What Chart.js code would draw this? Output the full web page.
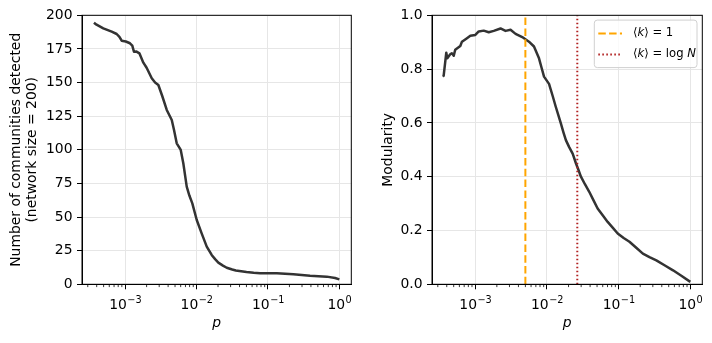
<!DOCTYPE html>
<html>
<head>
<meta charset="utf-8">
<script src="https://cdn.jsdelivr.net/npm/chart.js@4.4.1/dist/chart.umd.min.js"></script>
<style>
  html, body { margin: 0; padding: 0; background: #fff; }
  #wrap { position: relative; width: 712px; height: 343px; }
  canvas { position: absolute; top: 0; }
</style>
</head>
<body>
<div id="wrap">
  <canvas id="left" width="360" height="343" style="left:0"></canvas>
  <canvas id="right" width="352" height="343" style="left:360px"></canvas>
</div>
<script>
// data
const pCommunities = [3.66e-4, 3.98e-4, 4.95e-4, 6.49e-4, 7.62e-4, 8.32e-4, 8.95e-4, 1.023e-3, 1.17e-3, 1.26e-3,
  1.33e-3, 1.445e-3, 1.585e-3, 1.80e-3, 2.0e-3, 2.36e-3, 2.63e-3, 2.92e-3, 3.31e-3, 3.83e-3,
  4.50e-3, 4.84e-3, 5.28e-3, 6.01e-3, 6.53e-3, 7.29e-3, 7.94e-3, 8.73e-3, 1.007e-2, 1.18e-2,
  1.39e-2, 1.63e-2, 1.82e-2, 2.02e-2, 2.344e-2, 2.65e-2, 3.162e-2, 3.55e-2, 5.01e-2, 6.31e-2,
  7.76e-2, 0.133, 0.227, 0.389, 0.667, 0.871, 1.0];
const communities = [194.5, 193, 190.3, 187.8, 186.1, 184, 181.1, 180.5, 179.2, 177.5,
  172.9, 173, 171.7, 164.8, 161, 153.2, 150, 148.2, 140, 129.6,
  122.2, 114.7, 104.8, 99.9, 90, 72.6, 66, 60.2, 47.8, 37.9,
  28, 21.8, 18.7, 16.1, 13.9, 12.3, 11.0, 10.3, 9.2, 8.6,
  8.2, 8.2, 7.4, 6.4, 5.7, 4.7, 3.7];

const pModularity = [3.57e-4, 3.62e-4, 3.94e-4, 4.07e-4, 4.24e-4, 4.47e-4, 4.71e-4, 5.01e-4, 5.25e-4, 6.18e-4,
  6.52e-4, 7.66e-4, 8.53e-4, 1.002e-3, 1.117e-3, 1.312e-3, 1.542e-3, 1.811e-3, 2.249e-3, 2.642e-3,
  3.105e-3, 3.648e-3, 4.519e-3, 5.61e-3, 6.592e-3, 7.745e-3, 8.41e-3, 9.10e-3, 1.069e-2, 1.202e-2,
  1.327e-2, 1.445e-2, 1.563e-2, 1.698e-2, 1.837e-2, 2.042e-2, 2.291e-2, 2.535e-2, 2.754e-2, 2.979e-2,
  3.388e-2, 3.89e-2, 4.467e-2, 5.093e-2, 6.026e-2, 7.031e-2, 8.318e-2, 9.705e-2, 0.1175, 0.1416,
  0.1778, 0.2178, 0.2692, 0.3357, 0.4365, 0.5741, 0.7586, 1.0];
const modularity = [0.778, 0.775, 0.861, 0.840, 0.847, 0.855, 0.859, 0.850, 0.872, 0.886,
  0.902, 0.915, 0.924, 0.927, 0.940, 0.943, 0.937, 0.942, 0.951, 0.942,
  0.946, 0.931, 0.919, 0.902, 0.884, 0.840, 0.805, 0.772, 0.745, 0.700,
  0.660, 0.628, 0.598, 0.565, 0.536, 0.510, 0.485, 0.450, 0.425, 0.400,
  0.372, 0.344, 0.312, 0.282, 0.256, 0.232, 0.210, 0.189, 0.172, 0.158,
  0.135, 0.114, 0.101, 0.089, 0.071, 0.052, 0.031, 0.009];

const pMeanDegreeOne = 0.005;    // <k> = 1
const pMeanDegreeLogN = 0.0265;  // <k> = log N

const xRange = [2.49e-4, 1.47];
const xMajorTicks = [1e-3, 1e-2, 1e-1, 1];
const xTickLabels = [['10', '\u22123'], ['10', '\u22122'], ['10', '\u22121'], ['10', '0']];

const FONT = 'DejaVu Sans';
const GRID = '#e6e6e6';
const LINE = '#333333';

Chart.defaults.font.family = FONT;
Chart.defaults.font.size = 13.9;
Chart.defaults.color = '#000';

function majorIndex(v) {
  return xMajorTicks.findIndex(m => Math.abs(v / m - 1) < 1e-6);
}

function xScale() {
  return {
    type: 'logarithmic',
    min: xRange[0],
    max: xRange[1],
    bounds: 'data',
    afterBuildTicks: sc => {
      const t = [];
      for (let e = -4; e <= 0; e++) {
        for (let m = 1; m <= 9; m++) {
          const v = m * Math.pow(10, e);
          if (v >= xRange[0] && v <= xRange[1]) t.push({ value: v });
        }
      }
      sc.ticks = t;
    },
    afterFit: sc => { sc.height = 58.7; },
    ticks: { autoSkip: false, maxRotation: 0, minRotation: 0, padding: 6, callback: () => '' },
    grid: {
      color: c => (c.tick && majorIndex(c.tick.value) >= 0) ? GRID : 'rgba(0,0,0,0)',
      tickColor: c => (c.tick && majorIndex(c.tick.value) >= 0) ? '#000' : 'rgba(0,0,0,0)',
      tickLength: 5, lineWidth: 1
    },
    border: { color: '#000', width: 1 },
    title: { display: true, text: 'p', font: { style: 'italic' }, padding: { top: 0, bottom: 11 } }
  };
}

// minor ticks, 10^n labels with raised exponent, top/right spines
const axesFrame = {
  id: 'axesFrame',
  afterDraw(chart) {
    const { ctx, chartArea: a } = chart;
    const sc = chart.scales.x;
    ctx.save();
    ctx.strokeStyle = '#000';
    ctx.fillStyle = '#000';
    ctx.lineWidth = 0.8;
    ctx.textBaseline = 'alphabetic';
    sc.ticks.forEach(t => {
      const px = sc.getPixelForValue(t.value);
      const mi = majorIndex(t.value);
      if (mi < 0) {
        ctx.beginPath();
        ctx.moveTo(px, a.bottom);
        ctx.lineTo(px, a.bottom + 2.8);
        ctx.stroke();
        return;
      }
      const [base, exp] = xTickLabels[mi];
      ctx.font = '13.9px "' + FONT + '"';
      const wb = ctx.measureText(base).width;
      ctx.font = '9.7px "' + FONT + '"';
      const we = ctx.measureText(exp).width;
      const x = px - (wb + we) / 2;
      const y = a.bottom + 25;
      ctx.font = '13.9px "' + FONT + '"';
      ctx.fillText(base, x, y);
      ctx.font = '9.7px "' + FONT + '"';
      ctx.fillText(exp, x + wb + 0.5, y - 6);
    });
    ctx.lineWidth = 1;
    ctx.strokeRect(a.left, a.top, a.right - a.left, a.bottom - a.top);
    ctx.restore();
  }
};

// matplotlib style legend box
const legendBox = {
  id: 'legendBox',
  afterDraw(chart) {
    const { ctx, chartArea: a } = chart;
    const x0 = a.right - 108, y0 = a.top + 4.8, w = 102.7, h = 47.5;
    ctx.save();
    ctx.beginPath();
    ctx.roundRect(x0, y0, w, h, 3);
    ctx.fillStyle = 'rgba(255,255,255,0.8)';
    ctx.fill();
    ctx.strokeStyle = '#d0d0d0';
    ctx.lineWidth = 1;
    ctx.stroke();
    const items = chart.data.datasets.filter(d => d.inLegend);
    items.forEach((d, i) => {
      const y = y0 + 13.3 + i * 21;
      ctx.beginPath();
      ctx.strokeStyle = d.borderColor;
      ctx.lineWidth = d.borderWidth;
      ctx.setLineDash(d.borderDash || []);
      ctx.moveTo(x0 + 4, y);
      ctx.lineTo(x0 + 27.7, y);
      ctx.stroke();
      ctx.setLineDash([]);
      ctx.fillStyle = '#000';
      ctx.textBaseline = 'middle';
      let x = x0 + 38.7;
      for (const ch of d.label) {
        ctx.font = ('kN'.includes(ch) ? 'italic ' : '') + '11.6px "' + FONT + '"';
        ctx.fillText(ch, x, y);
        x += ctx.measureText(ch).width;
      }
    });
    ctx.restore();
  }
};

const toPoints = (xs, ys) => xs.map((x, i) => ({ x: x, y: ys[i] }));

const common = {
  responsive: false,
  animation: false,
  elements: { point: { radius: 0 }, line: { tension: 0 } },
  plugins: { legend: { display: false }, tooltip: { enabled: false } }
};

new Chart(document.getElementById('left'), {
  type: 'line',
  data: {
    datasets: [{
      label: 'communities',
      data: toPoints(pCommunities, communities),
      borderColor: LINE, borderWidth: 2.5, borderJoinStyle: 'round'
    }]
  },
  options: Object.assign({}, common, {
    layout: { padding: { left: 0, top: 15.3, right: 8.7, bottom: 0 } },
    scales: {
      x: xScale(),
      y: {
        min: 0, max: 200,
        ticks: { stepSize: 25, padding: 4.5 },
        afterFit: sc => { sc.width = 82; },
        grid: { color: GRID, tickColor: '#000', tickLength: 5 },
        border: { color: '#000', width: 1 },
        title: {
          display: true,
          text: ['Number of communities detected', '(network size = 200)'],
          padding: { top: 7.7, bottom: 0 }
        }
      }
    }
  }),
  plugins: [axesFrame]
});

new Chart(document.getElementById('right'), {
  type: 'line',
  data: {
    datasets: [
      {
        label: 'modularity',
        data: toPoints(pModularity, modularity),
        borderColor: LINE, borderWidth: 2.5, borderJoinStyle: 'round', order: 3
      },
      {
        label: '\u27E8k\u27E9 = 1', inLegend: true,
        data: [{ x: pMeanDegreeOne, y: 0 }, { x: pMeanDegreeOne, y: 1 }],
        borderColor: '#FFA500', borderWidth: 2, borderDash: [7.5, 3.3], order: 2
      },
      {
        label: '\u27E8k\u27E9 = log N', inLegend: true,
        data: [{ x: pMeanDegreeLogN, y: 0 }, { x: pMeanDegreeLogN, y: 1 }],
        borderColor: '#B22222', borderWidth: 2, borderDash: [1.6, 2.4], order: 1
      }
    ]
  },
  options: Object.assign({}, common, {
    layout: { padding: { left: 0, top: 15.3, right: 9.7, bottom: 0 } },
    scales: {
      x: xScale(),
      y: {
        min: 0, max: 1,
        ticks: { stepSize: 0.2, padding: 4.5, callback: v => v.toFixed(1) },
        afterFit: sc => { sc.width = 72; },
        grid: { color: GRID, tickColor: '#000', tickLength: 5 },
        border: { color: '#000', width: 1 },
        title: { display: true, text: 'Modularity', padding: { top: 19.7, bottom: 0 } }
      }
    }
  }),
  plugins: [axesFrame, legendBox]
});
</script>
</body>
</html>
